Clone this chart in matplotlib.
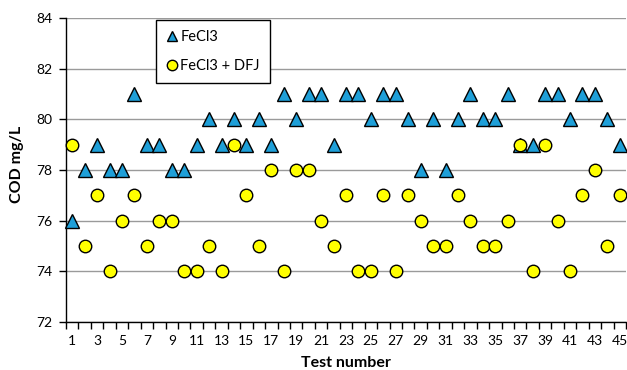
import matplotlib
matplotlib.use("Agg")
import matplotlib.pyplot as plt
from matplotlib.ticker import FixedLocator
from matplotlib.lines import Line2D

plt.rcParams['font.family'] = ['Lato', 'DejaVu Sans']

tests = list(range(1, 46))
fecl3 = [76, 78, 79, 78, 78, 81, 79, 79, 78, 78, 79, 80, 79, 80, 79, 80, 79, 81, 80, 81,
         81, 79, 81, 81, 80, 81, 81, 80, 78, 80, 78, 80, 81, 80, 80, 81, 79, 79, 81, 81,
         80, 81, 81, 80, 79]
fecl3_dfj = [79, 75, 77, 74, 76, 77, 75, 76, 76, 74, 74, 75, 74, 79, 77, 75, 78, 74, 78, 78,
             76, 75, 77, 74, 74, 77, 74, 77, 76, 75, 75, 77, 76, 75, 75, 76, 79, 74, 79, 76,
             74, 77, 78, 75, 77]
xtick_labels = [str(i) for i in range(1, 46, 2)]
yticks = [72, 74, 76, 78, 80, 82, 84]

W, H = 627, 370
fig = plt.figure(figsize=(W / 100, H / 100), dpi=100)
ax = fig.add_axes([66 / W, 1 - 322 / H, (626 - 66) / W, (322 - 18) / H])

blue = '#1E9FD8'
yellow = '#FFFF00'
ax.plot(tests, fecl3, linestyle='none', marker='^', markersize=9.5,
        markerfacecolor=blue, markeredgecolor='black', markeredgewidth=1.0,
        label='FeCl3', zorder=3, clip_on=False)
ax.plot(tests, fecl3_dfj, linestyle='none', marker='o', markersize=9,
        markerfacecolor=yellow, markeredgecolor='black', markeredgewidth=1.0,
        label='FeCl3 + DFJ', zorder=4, clip_on=False)

ax.set_xlim(0.5, 45.5)
ax.set_ylim(72, 84)
ax.set_yticks(yticks)
ax.set_yticklabels([str(v) for v in yticks], fontsize=10)
ax.yaxis.grid(True, color='#9A9A9A', linewidth=1.0, zorder=0)
ax.set_axisbelow(True)

ax.set_xticks(list(range(1, 46, 2)))
ax.set_xticklabels(xtick_labels, fontsize=10)
ax.tick_params(axis='x', which='major', length=0, pad=9.5)
ax.xaxis.set_minor_locator(FixedLocator([i + 0.5 for i in range(0, 46)]))
ax.tick_params(axis='x', which='minor', length=5, width=1, direction='out', color='black')
ax.tick_params(axis='y', which='major', length=5, width=1, direction='out', color='black', pad=5)

for s in ['top', 'right']:
    ax.spines[s].set_visible(False)
for s in ['left', 'bottom']:
    ax.spines[s].set_color('black')
    ax.spines[s].set_linewidth(1.0)

ax.set_xlabel('Test number', fontsize=11.5, fontweight='bold')
ax.xaxis.set_label_coords(0.5, -(363 - 322) / 304, transform=ax.transAxes)
ax.xaxis.label.set_va('center')
ax.set_ylabel('COD mg/L', fontsize=11.5, fontweight='bold')
ax.yaxis.set_label_coords(-(66 - 17.5) / 560, (322 - 164) / 304, transform=ax.transAxes)
ax.yaxis.label.set_va('center')

handles = [
    Line2D([], [], linestyle='none', marker='^', markersize=7.5, markerfacecolor=blue,
           markeredgecolor='black', markeredgewidth=1.0),
    Line2D([], [], linestyle='none', marker='o', markersize=7.5, markerfacecolor=yellow,
           markeredgecolor='black', markeredgewidth=1.0),
]
leg = fig.legend(handles, ['FeCl3', 'FeCl3 + DFJ'], loc='upper left',
                 bbox_to_anchor=(155.5 / W, 1 - 20 / H), fontsize=10.5, frameon=True,
                 fancybox=False, edgecolor='black', framealpha=1, handlelength=0.8,
                 handletextpad=0.2, borderpad=0.7, labelspacing=1.0, borderaxespad=0)
leg.get_frame().set_linewidth(1.0)

fig.savefig('out.png', dpi=100)
